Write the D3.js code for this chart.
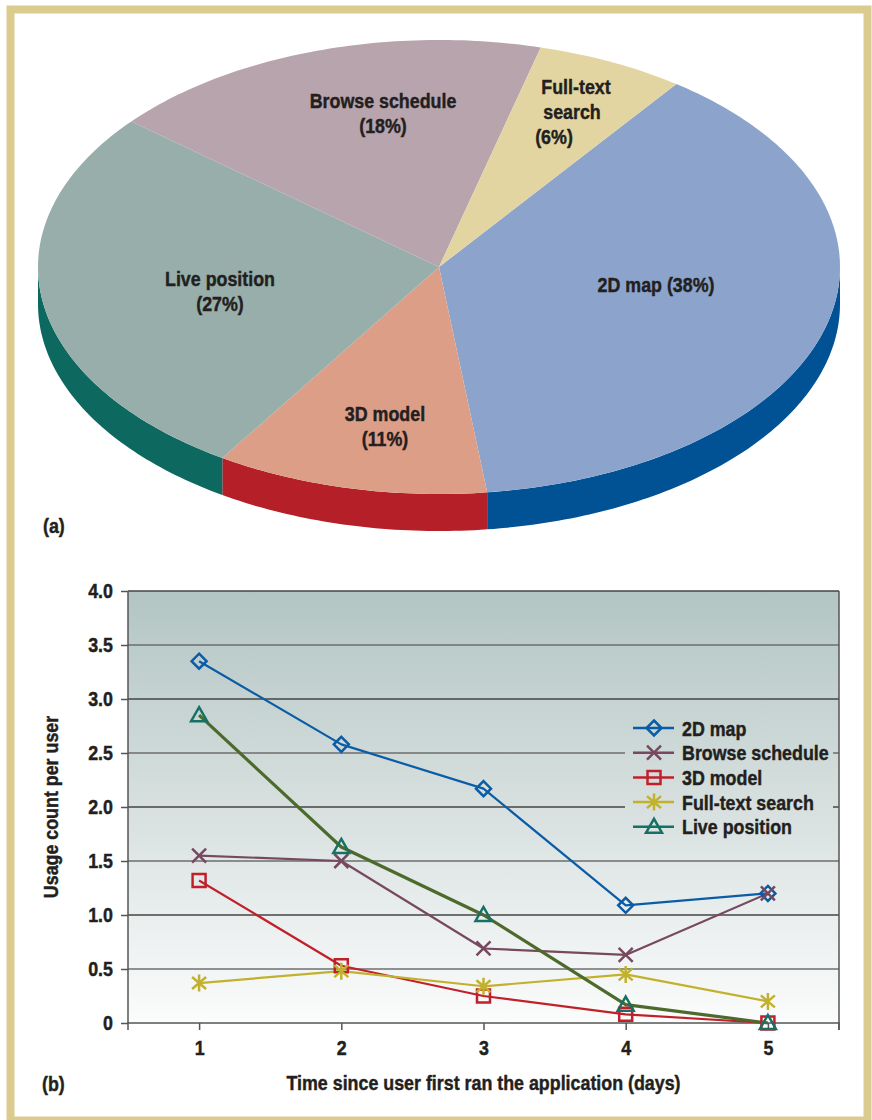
<!DOCTYPE html>
<html><head><meta charset="utf-8">
<script src="https://cdn.jsdelivr.net/npm/d3@7"></script>
<style>
html,body{margin:0;padding:0;background:#fff;}
text{font-family:"Liberation Sans",Arial,sans-serif;font-weight:bold;fill:#231f20;stroke:#231f20;stroke-width:0.45px;}
</style></head>
<body>
<svg id="chart" width="872" height="1120"></svg>
<script>
// ---------- Data ----------
const pieCategories = ["2D map", "3D model", "Live position", "Browse schedule", "Full-text search"];
const pieValues = [38, 11, 27, 18, 6];
const pieLabels = [["2D map (38%)"], ["3D model", "(11%)"], ["Live position", "(27%)"], ["Browse schedule", "(18%)"], ["Full-text", "search", "(6%)"]];

const days = [1, 2, 3, 4, 5];
const seriesNames = ["2D map", "Browse schedule", "3D model", "Full-text search", "Live position"];
const map2D = [3.35, 2.58, 2.17, 1.09, 1.20];
const browseSchedule = [1.55, 1.50, 0.69, 0.63, 1.20];
const model3D = [1.32, 0.53, 0.25, 0.08, 0.00];
const fullTextSearch = [0.37, 0.48, 0.34, 0.45, 0.20];
const livePosition = [2.85, 1.63, 1.00, 0.17, 0.00];
const yTicks = [0, 0.5, 1.0, 1.5, 2.0, 2.5, 3.0, 3.5, 4.0];
const yTickLabels = ["0", "0.5", "1.0", "1.5", "2.0", "2.5", "3.0", "3.5", "4.0"];
const xTickLabels = ["1", "2", "3", "4", "5"];

// ---------- Styles ----------
const FS = 21, SX = 0.85;
const pieTop = {"2D map": "#8ca4cc", "3D model": "#dd9e88", "Live position": "#98aeaa", "Browse schedule": "#b8a4ad", "Full-text search": "#e3d5a1"};
const pieSide = {"2D map": "#005294", "3D model": "#b41f28", "Live position": "#0d6960", "Browse schedule": "#8a7580", "Full-text search": "#b0a070"};
const lineColor = {"2D map": "#0b5ca6", "Browse schedule": "#76495f", "3D model": "#c1202b", "Full-text search": "#c2b12c", "Live position": "#4d6a2d"};
const markerColor = {"2D map": "#0b5ca6", "Browse schedule": "#76495f", "3D model": "#c1202b", "Full-text search": "#c2b12c", "Live position": "#167064"};
const markerType = {"2D map": "diamond", "Browse schedule": "x", "3D model": "square", "Full-text search": "asterisk", "Live position": "triangle"};
const lineWidth = {"2D map": 2.2, "Browse schedule": 2.2, "3D model": 2.2, "Full-text search": 2.2, "Live position": 3.2};

const svg = d3.select("#chart");

function addText(g, x, y, str, anchor, rot, size) {
  return g.append("text")
    .attr("transform", `translate(${x},${y})${rot ? " rotate(" + rot + ")" : ""} scale(${SX},1)`)
    .attr("dy", "0.36em").attr("text-anchor", anchor || "middle")
    .attr("font-size", size || FS).text(str);
}

// Frame
svg.append("rect").attr("x", 10.5).attr("y", 9.5).attr("width", 857).attr("height", 1111)
  .attr("fill", "none").attr("stroke", "#dccb8e").attr("stroke-width", 8);

// ---------- 3D pie ----------
const cx = 439, cy = 267, rx = 401, ry = 227, depth = 37;
const a0 = 36.3 * Math.PI / 180;
const pie = d3.pie().sort(null).value(d => d.v).startAngle(a0).endAngle(a0 + 2 * Math.PI);
const pieData = pie(pieCategories.map((c, i) => ({c, v: pieValues[i], lab: pieLabels[i]})));
const ex = a => cx + rx * Math.sin(a);
const ey = a => cy - ry * Math.cos(a);

function topPath(d) {
  const n = Math.max(8, Math.ceil((d.endAngle - d.startAngle) * 60));
  let p = `M${cx},${cy}`;
  for (let i = 0; i <= n; i++) {
    const a = d.startAngle + (d.endAngle - d.startAngle) * i / n;
    p += `L${ex(a)},${ey(a)}`;
  }
  return p + "Z";
}
function sidePath(d) {
  const segs = [];
  for (const off of [0, 2 * Math.PI]) {
    const s = Math.max(d.startAngle, Math.PI / 2 + off);
    const e = Math.min(d.endAngle, 3 * Math.PI / 2 + off);
    if (e > s) segs.push([s, e]);
  }
  return segs.map(([s, e]) => {
    const n = Math.max(8, Math.ceil((e - s) * 60));
    let p = "";
    for (let i = 0; i <= n; i++) {
      const a = s + (e - s) * i / n;
      p += (i ? "L" : "M") + ex(a) + "," + ey(a);
    }
    for (let i = n; i >= 0; i--) {
      const a = s + (e - s) * i / n;
      p += "L" + ex(a) + "," + (ey(a) + depth);
    }
    return p + "Z";
  }).join("");
}
const gPie = svg.append("g");
gPie.selectAll("path.side").data(pieData).join("path").attr("class", "side")
  .attr("d", sidePath).attr("fill", d => pieSide[d.data.c]);
gPie.selectAll("path.top").data(pieData).join("path").attr("class", "top")
  .attr("d", topPath).attr("fill", d => pieTop[d.data.c]);

const labelPos = {"2D map": [656, 284], "3D model": [385, 413], "Live position": [220, 278], "Browse schedule": [383, 100], "Full-text search": [576, 86]};
const labelLineX = {"Full-text search": [0, -4, -22]};
pieData.forEach(d => {
  const [lx, ly] = labelPos[d.data.c];
  d.data.lab.forEach((t, i) => {
    const dx = labelLineX[d.data.c] ? labelLineX[d.data.c][i] : 0;
    addText(gPie, lx + dx, ly + i * 25, t);
  });
});
addText(svg, 43, 525, "(a)", "start");

// ---------- Line chart ----------
const x = d3.scaleLinear().domain([0.5, 5.5]).range([128, 839]);
const y = d3.scaleLinear().domain([0, 4]).range([1023, 591]);

const defs = svg.append("defs");
const grad = defs.append("linearGradient").attr("id", "bg").attr("gradientUnits", "userSpaceOnUse")
  .attr("x1", 0).attr("y1", y(4)).attr("x2", 0).attr("y2", y(0));
grad.append("stop").attr("offset", "0").attr("stop-color", "#b2c5c3");
grad.append("stop").attr("offset", "0.5").attr("stop-color", "#d7e0df");
grad.append("stop").attr("offset", "1").attr("stop-color", "#fbfcfc");

svg.append("rect").attr("x", x(0.5)).attr("y", y(4)).attr("width", x(5.5) - x(0.5)).attr("height", y(0) - y(4))
  .attr("fill", "url(#bg)");

svg.append("g").selectAll("line").data(yTicks.filter(v => v > 0)).join("line")
  .attr("x1", x(0.5)).attr("x2", x(5.5)).attr("y1", d => y(d)).attr("y2", d => y(d))
  .attr("stroke", (d, i) => i % 2 ? "#444" : "#6e6e6e").attr("stroke-width", 1.5);

svg.append("line").attr("x1", x(5.5)).attr("x2", x(5.5)).attr("y1", y(4)).attr("y2", y(0) + 7)
  .attr("stroke", "#555").attr("stroke-width", 1.5);

const yAxis = d3.axisLeft(y).tickValues(yTicks).tickFormat((d, i) => yTickLabels[i]).tickSize(7).tickPadding(8);
const gy = svg.append("g").attr("transform", `translate(${x(0.5)},0)`).call(yAxis);
gy.select(".domain").attr("stroke", "#555").attr("stroke-width", 1.5).attr("d", `M0,${y(4)}V${y(0)}`);
gy.selectAll(".tick line").attr("stroke", "#555").attr("stroke-width", 1.5);
gy.selectAll(".tick text").attr("font-size", FS).attr("fill", "#231f20")
  .attr("x", -15 / SX).attr("transform", `scale(${SX},1)`)
  .style("font-family", '"Liberation Sans",Arial,sans-serif').style("font-weight", "bold");

const xAxis = d3.axisBottom(x).tickValues(days).tickFormat((d, i) => xTickLabels[i]).tickSize(7).tickPadding(10);
const gx = svg.append("g").attr("transform", `translate(0,${y(0)})`).call(xAxis);
gx.select(".domain").attr("stroke", "#555").attr("stroke-width", 1.5).attr("d", `M${x(0.5)},7V0H${x(5.5)}V7`);
gx.selectAll(".tick line").attr("stroke", "#555").attr("stroke-width", 1.5);
gx.selectAll(".tick text").attr("font-size", FS).attr("fill", "#231f20").attr("transform", `scale(${SX},1)`)
  .style("font-family", '"Liberation Sans",Arial,sans-serif').style("font-weight", "bold");

addText(svg, 50, (y(0) + y(4)) / 2, "Usage count per user", "middle", -90);
addText(svg, (x(0.5) + x(5.5)) / 2, 1082, "Time since user first ran the application (days)");
addText(svg, 42, 1083, "(b)", "start");

function markerPath(t) {
  switch (t) {
    case "diamond": return "M0,-7.5L7.5,0L0,7.5L-7.5,0Z";
    case "square": return "M-6.5,-6.5H6.5V6.5H-6.5Z";
    case "triangle": return "M0,-8L8,6H-8Z";
    case "x": return "M-7,-7L7,7M-7,7L7,-7";
    case "asterisk": return "M-7,-6L7,6M-7,6L7,-6M0,-8.5V8.5";
  }
}
const seriesValues = [map2D, browseSchedule, model3D, fullTextSearch, livePosition];
const line = d3.line().x(d => x(d[0])).y(d => y(d[1]));
const gLines = svg.append("g");
seriesNames.forEach((name, si) => {
  const pts = days.map((dd, i) => [dd, seriesValues[si][i]]);
  gLines.append("path").attr("d", line(pts)).attr("fill", "none")
    .attr("stroke", lineColor[name]).attr("stroke-width", lineWidth[name]).attr("stroke-linejoin", "round");
});
seriesNames.forEach((name, si) => {
  const pts = days.map((dd, i) => [dd, seriesValues[si][i]]);
  gLines.append("g").selectAll("path").data(pts).join("path")
    .attr("transform", d => `translate(${x(d[0])},${y(d[1])})`)
    .attr("d", markerPath(markerType[name])).attr("fill", "none")
    .attr("stroke", markerColor[name]).attr("stroke-width", 2.5);
});

const lg = svg.append("g");
lg.append("rect").attr("x", 625).attr("y", 713).attr("width", 208).attr("height", 128).attr("fill", "url(#bg)");
seriesNames.forEach((name, i) => {
  const ly = 728 + i * 24.7;
  lg.append("line").attr("x1", 633).attr("x2", 674).attr("y1", ly).attr("y2", ly)
    .attr("stroke", markerColor[name]).attr("stroke-width", 2.5);
  lg.append("path").attr("transform", `translate(654,${ly})`).attr("d", markerPath(markerType[name]))
    .attr("fill", "none").attr("stroke", markerColor[name]).attr("stroke-width", 2.5);
  addText(lg, 682, ly, name, "start");
});
</script>
</body></html>
